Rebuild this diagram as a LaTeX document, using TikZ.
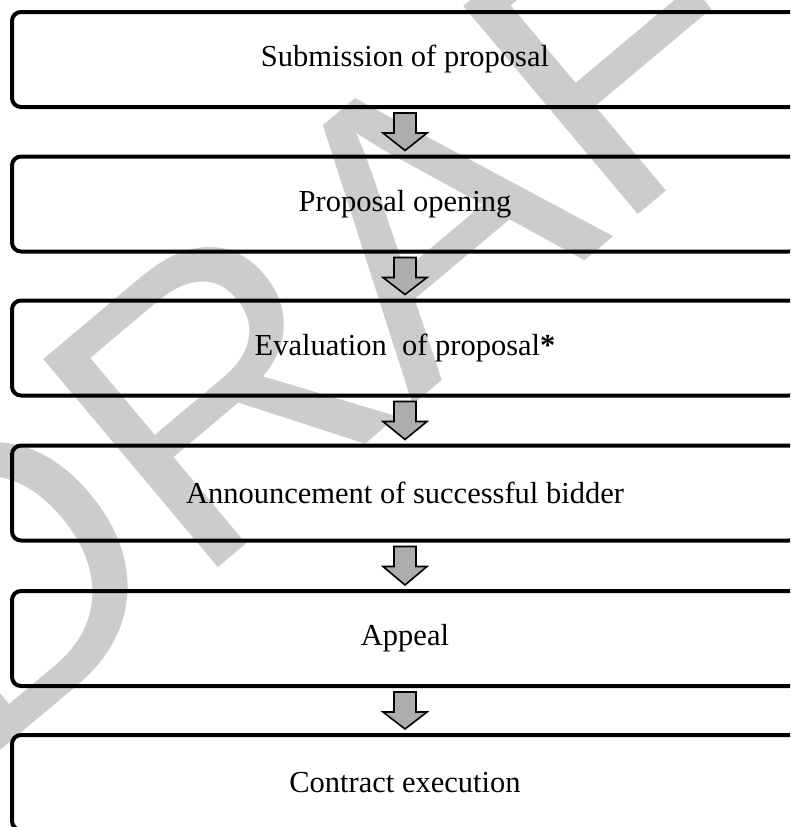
\documentclass[tikz,border=0pt]{standalone}
\usepackage{fontspec}
\setmainfont{Liberation Serif}
\newfontfamily\wmfont{Liberation Sans}
\usetikzlibrary{calc}
\tikzset{
  stagebox/.style={draw=black, line width=4pt, rounded corners=9pt,
    minimum width=786pt, minimum height=95pt, inner sep=0pt,
    font=\fontsize{30.5}{36}\selectfont},
  blockarr/.style={draw=black, line width=1.6pt, fill=black!32, line join=miter},
  watermark/.style={text=black!20, font=\wmfont\fontsize{395}{395}\selectfont,
    rotate=40, anchor=base west, inner sep=0pt}
}
\newcommand\flowarrow[2]{%
  \draw[blockarr] let \p1=(#1.south), \p2=(#2.north) in
    (\x1-11pt,\y1-4pt) -- (\x1+11pt,\y1-4pt) -- (\x1+11pt,\y1-24pt)
    -- (\x1+22pt,\y1-24pt) -- (\x1,\y2+4pt) -- (\x1-22pt,\y1-24pt)
    -- (\x1-11pt,\y1-24pt) -- cycle;}
\begin{document}
\begin{tikzpicture}[x=1pt,y=-1pt]
\useasboundingbox (0,0) rectangle (790,827);
\begin{scope}
\clip (0,0) rectangle (790,827);
\node[watermark] (wm) at (-25,772) {DRAFT};
\node[stagebox] (b1) at (405,59.5) {Submission of proposal};
\node[stagebox] (b2) at (405,204) {Proposal opening};
\node[stagebox] (b3) at (405,348) {Evaluation\ \ of proposal\textbf{*}};
\node[stagebox] (b4) at (405,493) {Announcement of successful bidder};
\node[stagebox] (b5) at (405,638.5) {Appeal};
\node[stagebox] (b6) at (405,782.5) {Contract execution};
\flowarrow{b1}{b2}
\flowarrow{b2}{b3}
\flowarrow{b3}{b4}
\flowarrow{b4}{b5}
\flowarrow{b5}{b6}
\end{scope}
\end{tikzpicture}
\end{document}
